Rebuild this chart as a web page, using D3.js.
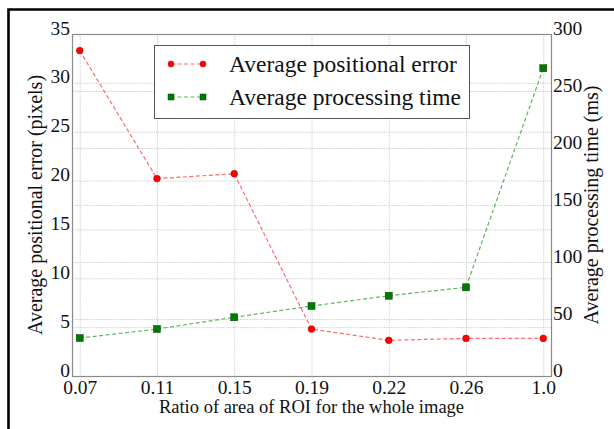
<!DOCTYPE html>
<html>
<head>
<meta charset="utf-8">
<script src="https://cdn.jsdelivr.net/npm/d3@7"></script>
<style>
    body { margin: 0; background: #fff; }
    svg text { font-family: "Liberation Serif", "DejaVu Serif", serif; fill: #111; }
    .grid line { stroke: #c8c8c8; stroke-dasharray: 1.2,1.2; }
    .grid path { display: none; }
    .axis path { display: none; }
    .axis line { display: none; }
    .axis text { font-size: 19.5px; }
    .label { font-size: 18.5px; }
    .ylabel { font-size: 20px; }
    .legend-text { font-size: 23.5px; }
</style>
</head>
<body>
<div id="chart"></div>
<script>
// ---- size of the page
const w = 614;
const h = 429;

//  ----   plot area   ------
const pLeft = 72;
const pRight = 63;
const pTop = 34;
const pBottom = 53;

// ---- DATA
const ratios = ["0.07", "0.11", "0.15", "0.19", "0.22", "0.26", "1.0"];
const posError = [33.3, 20.2, 20.7, 4.8, 3.65, 3.85, 3.85];   // pixels
const procTime = [33.3, 41.2, 51.5, 61.4, 70.4, 77.8, 270];   // ms
const leftTicks = [0, 5, 10, 15, 20, 25, 30, 35];
const rightTicks = [0, 50, 100, 150, 200, 250, 300];

const seriesNames = ["Average positional error", "Average processing time"];

// SCALES
const xScale = d3.scalePoint()
    .domain(ratios)
    .range([pLeft, w - pRight])
    .padding(0.1);

const yLeft = d3.scaleLinear()
    .domain([0, 35])
    .range([h - pBottom, pTop]);

const yRight = d3.scaleLinear()
    .domain([0, 300])
    .range([h - pBottom, pTop]);

const svg = d3.select("#chart")
    .append("svg")
    .attr("width", w)
    .attr("height", h);

// outer frame of the figure (only left and top edges visible)
svg.append("path")
    .attr("d", `M8.5,${h + 5} L8.5,9.5 L${w + 5},9.5`)
    .attr("fill", "none")
    .attr("stroke", "#000")
    .attr("stroke-width", 2.6);

// GRID
svg.append("g")
    .attr("class", "grid")
    .attr("transform", `translate(0,${h - pBottom})`)
    .call(d3.axisBottom(xScale).tickSize(-(h - pTop - pBottom)).tickFormat(""));

svg.append("g")
    .attr("class", "grid")
    .attr("transform", `translate(${pLeft},0)`)
    .call(d3.axisLeft(yLeft).tickValues(leftTicks).tickSize(-(w - pLeft - pRight)).tickFormat(""));

svg.append("g")
    .attr("class", "grid")
    .attr("transform", `translate(${pLeft},0)`)
    .call(d3.axisLeft(yRight).tickValues(rightTicks).tickSize(-(w - pLeft - pRight)).tickFormat(""));

// spines
svg.append("rect")
    .attr("x", pLeft + 0.5)
    .attr("y", pTop + 0.5)
    .attr("width", w - pLeft - pRight)
    .attr("height", h - pTop - pBottom)
    .attr("fill", "none")
    .attr("stroke", "#8a8a8a")
    .attr("stroke-width", 1.2);

// AXES
svg.append("g")
    .attr("class", "axis")
    .attr("transform", `translate(0,${h - pBottom})`)
    .call(d3.axisBottom(xScale).tickSize(0).tickPadding(4));

svg.append("g")
    .attr("class", "axis")
    .attr("transform", `translate(${pLeft},0)`)
    .call(d3.axisLeft(yLeft).tickValues(leftTicks).tickSize(0).tickPadding(2))
    .selectAll("text")
    .attr("dy", "0em");

svg.append("g")
    .attr("class", "axis")
    .attr("transform", `translate(${w - pRight},0)`)
    .call(d3.axisRight(yRight).tickValues(rightTicks).tickSize(0).tickPadding(2))
    .selectAll("text")
    .attr("dy", "0em");

// LABELS
svg.append("text")
    .attr("class", "label")
    .attr("x", (w - pLeft - pRight) / 2 + pLeft)
    .attr("y", 413)
    .attr("text-anchor", "middle")
    .text("Ratio of area of ROI for the whole image");

svg.append("text")
    .attr("class", "ylabel")
    .attr("transform", `translate(42, ${(h - pBottom + pTop) / 2}) rotate(-90)`)
    .attr("text-anchor", "middle")
    .text("Average positional error (pixels)");

svg.append("text")
    .attr("class", "ylabel")
    .attr("transform", `translate(598, ${(h - pBottom + pTop) / 2}) rotate(-90)`)
    .attr("text-anchor", "middle")
    .text("Average processing time (ms)");

// LINES
const lineLeft = d3.line()
    .x((d, i) => xScale(ratios[i]))
    .y((d) => yLeft(d));

const lineRight = d3.line()
    .x((d, i) => xScale(ratios[i]))
    .y((d) => yRight(d));

svg.append("path")
    .attr("d", lineLeft(posError))
    .attr("fill", "none")
    .attr("stroke", "#ff6a6a")
    .attr("stroke-width", 1.2)
    .attr("stroke-dasharray", "4,2.5");

svg.append("path")
    .attr("d", lineRight(procTime))
    .attr("fill", "none")
    .attr("stroke", "#5cb85c")
    .attr("stroke-width", 1.2)
    .attr("stroke-dasharray", "4,2.5");

// MARKERS
svg.append("g")
    .selectAll("circle")
    .data(posError)
    .enter()
    .append("circle")
    .attr("cx", (d, i) => xScale(ratios[i]))
    .attr("cy", (d) => yLeft(d))
    .attr("r", 3.4)
    .attr("fill", "#ff0000")
    .attr("stroke", "#b00000")
    .attr("stroke-width", 0.5);

svg.append("g")
    .selectAll("rect")
    .data(procTime)
    .enter()
    .append("rect")
    .attr("x", (d, i) => xScale(ratios[i]) - 3.5)
    .attr("y", (d) => yRight(d) - 3.5)
    .attr("width", 7)
    .attr("height", 7)
    .attr("fill", "#007a00")
    .attr("stroke", "#004000")
    .attr("stroke-width", 0.5);

// LEGEND
const legend = svg.append("g").attr("class", "legend");
legend.append("rect")
    .attr("x", 154.5)
    .attr("y", 45.5)
    .attr("width", 315)
    .attr("height", 73)
    .attr("fill", "#fff")
    .attr("stroke", "#555")
    .attr("stroke-width", 1);

const legendY = [64, 97];
const legendColors = ["#ff6a6a", "#5cb85c"];
legendY.forEach((y, i) => {
    legend.append("line")
        .attr("x1", 171).attr("x2", 203)
        .attr("y1", y).attr("y2", y)
        .attr("stroke", legendColors[i])
        .attr("stroke-width", 1.2)
        .attr("stroke-dasharray", "4,2.5");
    [171, 203].forEach((x) => {
        if (i === 0) {
            legend.append("circle")
                .attr("cx", x).attr("cy", y).attr("r", 3)
                .attr("fill", "#ff0000").attr("stroke", "#b00000").attr("stroke-width", 0.5);
        } else {
            legend.append("rect")
                .attr("x", x - 3).attr("y", y - 3).attr("width", 6).attr("height", 6)
                .attr("fill", "#007a00").attr("stroke", "#004000").attr("stroke-width", 0.5);
        }
    });
    legend.append("text")
        .attr("class", "legend-text")
        .attr("x", 229)
        .attr("y", y + 7.5)
        .text(seriesNames[i]);
});
</script>
</body>
</html>
